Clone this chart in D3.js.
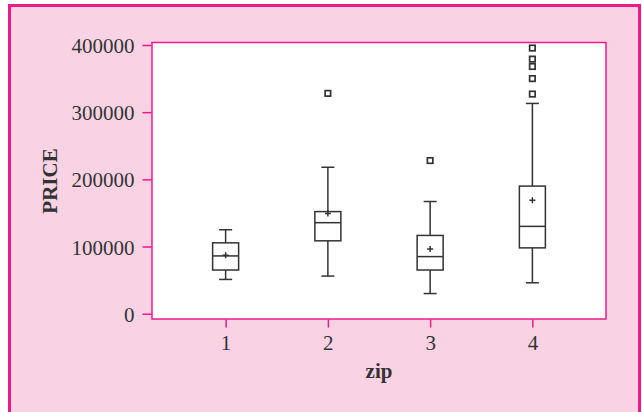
<!DOCTYPE html>
<html>
<head>
<meta charset="utf-8">
<script src="https://cdn.jsdelivr.net/npm/d3@7"></script>
<style>
  body { margin: 0; background: #fff; }
  svg { display: block; }
  text { font-family: "Liberation Serif", "DejaVu Serif", serif; fill: #333; }
</style>
</head>
<body>
<div id="chart"></div>
<script>
// box plot summary per zip code
const zips = ['1', '2', '3', '4'];
const whiskerLow = [51000, 56000, 30000, 46000];
const q1 = [65000, 108500, 65000, 98000];
const median = [86000, 135500, 85000, 130000];
const q3 = [105500, 152000, 116500, 190000];
const whiskerHigh = [125000, 218000, 167000, 313000];
const means = [87000, 149000, 96500, 169000];
const outliers = [[], [328000], [228000], [327000, 350000, 368000, 379000, 395500]];
const yTicks = [0, 100000, 200000, 300000, 400000];

const W = 642, H = 412;
const pink = '#f9d3e4', magenta = '#ec1b8c', ink = '#333';
const frame = { left: 152, right: 606, top: 42.5, bottom: 319 };

const svg = d3.select('#chart')
  .append('svg')
  .attr('width', W)
  .attr('height', H);

// outer panel
svg.append('rect')
  .attr('x', 9.5).attr('y', 5.5)
  .attr('width', 630).attr('height', 430)
  .attr('fill', pink)
  .attr('stroke', magenta)
  .attr('stroke-width', 3);

// plot frame
svg.append('rect')
  .attr('x', frame.left).attr('y', frame.top)
  .attr('width', frame.right - frame.left)
  .attr('height', frame.bottom - frame.top)
  .attr('fill', '#fff')
  .attr('stroke', magenta)
  .attr('stroke-width', 1.5);

// scales
const x = d3.scalePoint()
  .domain(zips)
  .range([frame.left, frame.right])
  .padding(0.72);
const y = d3.scaleLinear()
  .domain([0, 400000])
  .range([313.7, 45]);

// Y axis
const yAxis = svg.append('g')
  .attr('transform', 'translate(' + (frame.left - 0.5) + ',0)')
  .call(d3.axisLeft(y).tickValues(yTicks).tickFormat(d3.format('d')).tickSize(9).tickPadding(8));
yAxis.select('.domain').remove();
yAxis.selectAll('line').attr('stroke', magenta).attr('stroke-width', 1.5);
yAxis.selectAll('text')
  .style('font-size', '21px')
  .attr('fill', ink)
  .attr('dy', '0.36em');

// X axis
const xAxis = svg.append('g')
  .attr('transform', 'translate(0,' + (frame.bottom + 0.5) + ')')
  .call(d3.axisBottom(x).tickSize(8).tickPadding(8));
xAxis.select('.domain').remove();
xAxis.selectAll('line').attr('stroke', magenta).attr('stroke-width', 1.5);
xAxis.selectAll('text')
  .style('font-size', '21px')
  .attr('fill', ink);

// axis titles
svg.append('text')
  .attr('transform', 'translate(57,181) rotate(-90)')
  .attr('text-anchor', 'middle')
  .style('font-size', '21px')
  .style('font-weight', 'bold')
  .text('PRICE');

svg.append('text')
  .attr('x', (frame.left + frame.right) / 2)
  .attr('y', 378)
  .attr('text-anchor', 'middle')
  .style('font-size', '21px')
  .style('font-weight', 'bold')
  .text('zip');

// boxes
const boxW = 26, capW = 13;
const groups = svg.selectAll('g.box')
  .data(zips)
  .enter()
  .append('g')
  .attr('class', 'box')
  .attr('fill', 'none')
  .attr('stroke', ink)
  .attr('stroke-width', 1.5);

// whiskers
groups.append('line')
  .attr('x1', d => x(d)).attr('x2', d => x(d))
  .attr('y1', (d, i) => y(q3[i])).attr('y2', (d, i) => y(whiskerHigh[i]));
groups.append('line')
  .attr('x1', d => x(d)).attr('x2', d => x(d))
  .attr('y1', (d, i) => y(q1[i])).attr('y2', (d, i) => y(whiskerLow[i]));
// caps
groups.append('line')
  .attr('x1', d => x(d) - capW / 2).attr('x2', d => x(d) + capW / 2)
  .attr('y1', (d, i) => y(whiskerHigh[i])).attr('y2', (d, i) => y(whiskerHigh[i]));
groups.append('line')
  .attr('x1', d => x(d) - capW / 2).attr('x2', d => x(d) + capW / 2)
  .attr('y1', (d, i) => y(whiskerLow[i])).attr('y2', (d, i) => y(whiskerLow[i]));
// box
groups.append('rect')
  .attr('x', d => x(d) - boxW / 2)
  .attr('width', boxW)
  .attr('y', (d, i) => y(q3[i]))
  .attr('height', (d, i) => y(q1[i]) - y(q3[i]))
  .attr('fill', '#fff');
// median
groups.append('line')
  .attr('x1', d => x(d) - boxW / 2).attr('x2', d => x(d) + boxW / 2)
  .attr('y1', (d, i) => y(median[i])).attr('y2', (d, i) => y(median[i]));
// mean "+"
groups.append('path')
  .attr('d', (d, i) => {
    const cx = x(d), cy = y(means[i]), s = 3;
    return 'M' + (cx - s) + ',' + cy + 'H' + (cx + s) + 'M' + cx + ',' + (cy - s) + 'V' + (cy + s);
  });
// outliers
groups.selectAll('rect.out')
  .data((d, i) => outliers[i].map(v => ({ zip: d, v: v })))
  .enter()
  .append('rect')
  .attr('class', 'out')
  .attr('x', o => x(o.zip) - 2.75)
  .attr('y', o => y(o.v) - 2.75)
  .attr('width', 5.5)
  .attr('height', 5.5)
  .attr('stroke-width', 1.7)
  .attr('fill', '#fff');
</script>
</body>
</html>
